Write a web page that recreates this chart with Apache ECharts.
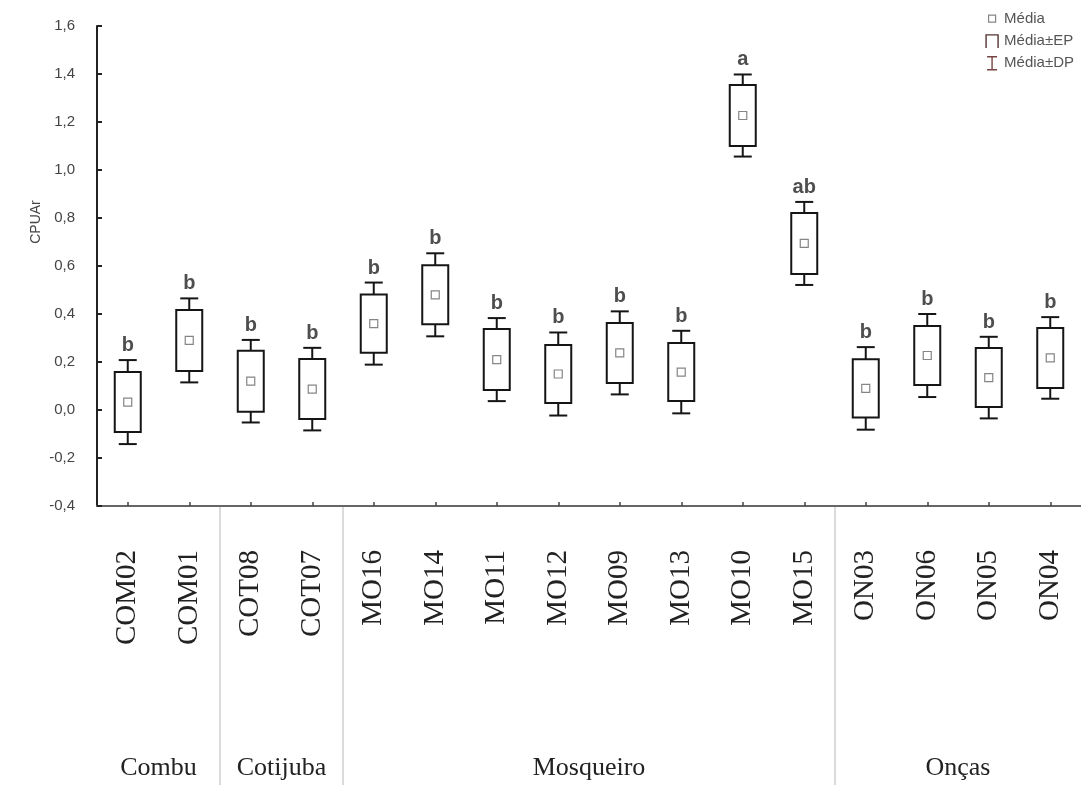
<!DOCTYPE html>
<html>
<head>
<meta charset="utf-8">
<title>CPUAr por ponto</title>
<script src="https://cdn.jsdelivr.net/npm/echarts@6/dist/echarts.min.js"></script>
<style>
  html, body { margin: 0; padding: 0; background: #fff; }
  #chart { width: 1081px; height: 785px; }
</style>
</head>
<body>
<div id="chart"></div>
<script>
// Sampling points, grouped by island
const categories = ['COM02', 'COM01', 'COT08', 'COT07', 'MO16', 'MO14', 'MO11', 'MO12',
                    'MO09', 'MO13', 'MO10', 'MO15', 'ON03', 'ON06', 'ON05', 'ON04'];
const groupNames = ['Combu', 'Cotijuba', 'Mosqueiro', 'Onças'];
const groupSizes = [2, 2, 8, 4];

// Mean CPUAr, standard error (EP) and standard deviation (DP) per point
const means = [0.033, 0.290, 0.120, 0.087, 0.360, 0.480, 0.210, 0.150,
               0.238, 0.158, 1.227, 0.694, 0.090, 0.227, 0.135, 0.217];
const ep    = [0.125, 0.127, 0.127, 0.125, 0.121, 0.123, 0.127, 0.121,
               0.125, 0.121, 0.127, 0.127, 0.121, 0.123, 0.123, 0.125];
const dp    = [0.175, 0.175, 0.172, 0.172, 0.171, 0.173, 0.173, 0.173,
               0.173, 0.172, 0.171, 0.173, 0.172, 0.173, 0.170, 0.170];
// Significance letters
const letters = ['b', 'b', 'b', 'b', 'b', 'b', 'b', 'b', 'b', 'b', 'a', 'ab', 'b', 'b', 'b', 'b'];

// Value axis ticks
const yMin = -0.4, yMax = 1.6, yStep = 0.2;
const yTickLabels = ['-0,4', '-0,2', '0,0', '0,2', '0,4', '0,6', '0,8', '1,0', '1,2', '1,4', '1,6'];

const rows = categories.map((c, i) => [i, means[i], ep[i], dp[i]]);

const chart = echarts.init(document.getElementById('chart'));

const LINE = '#151515';
const BOX_W = 26, CAP_W = 18;

function renderWhisker(params, api) {
  const i = api.value(0), m = api.value(1), e = api.value(2), d = api.value(3);
  const x = api.coord([i, m])[0];
  const yDt = api.coord([i, m + d])[1];
  const yEt = api.coord([i, m + e])[1];
  const yEb = api.coord([i, m - e])[1];
  const yDb = api.coord([i, m - d])[1];
  const st = { stroke: LINE, lineWidth: 2 };
  return {
    type: 'group',
    children: [
      { type: 'line', shape: { x1: x, y1: yDt, x2: x, y2: yEt }, style: st },
      { type: 'line', shape: { x1: x - CAP_W / 2, y1: yDt, x2: x + CAP_W / 2, y2: yDt }, style: st },
      { type: 'line', shape: { x1: x, y1: yEb, x2: x, y2: yDb }, style: st },
      { type: 'line', shape: { x1: x - CAP_W / 2, y1: yDb, x2: x + CAP_W / 2, y2: yDb }, style: st }
    ]
  };
}

function renderBox(params, api) {
  const i = api.value(0), m = api.value(1), e = api.value(2);
  const x = api.coord([i, m])[0];
  const yT = api.coord([i, m + e])[1];
  const yB = api.coord([i, m - e])[1];
  return {
    type: 'rect',
    shape: { x: x - BOX_W / 2, y: yT, width: BOX_W, height: yB - yT },
    style: { fill: '#fff', stroke: LINE, lineWidth: 2 }
  };
}

const meanIcon = 'path://M0,0M14,14M3.5,3.5H10.5V10.5H3.5Z';
const epIcon = 'path://M0,0M14,14M1,14V1H13V14';
const dpIcon = 'path://M0,0M14,14M2,0.5H12M7,0.5V13.5M2,13.5H12';

chart.setOption({
  animation: false,
  backgroundColor: '#fff',
  grid: { left: 97, top: 26, width: 997, height: 480, containLabel: false },
  legend: {
    orient: 'vertical',
    right: 2,
    top: 6,
    itemWidth: 14,
    itemHeight: 14,
    itemGap: 7,
    textStyle: { fontFamily: 'Liberation Sans, Arial, sans-serif', fontSize: 15, color: '#555' },
    data: [
      { name: 'Média', icon: meanIcon, itemStyle: { color: 'rgba(0,0,0,0)', borderColor: '#666', borderWidth: 1.2 } },
      { name: 'Média±EP', icon: epIcon, itemStyle: { color: 'rgba(0,0,0,0)', borderColor: '#533', borderWidth: 1.4 } },
      { name: 'Média±DP', icon: dpIcon, itemStyle: { color: 'rgba(0,0,0,0)', borderColor: '#744', borderWidth: 1.4 } }
    ]
  },
  xAxis: {
    type: 'category',
    data: categories,
    axisLine: { show: true, onZero: false, lineStyle: { color: '#666', width: 2 } },
    axisTick: { show: true, inside: true, alignWithLabel: true, length: 4, lineStyle: { color: '#444', width: 1.5 } },
    axisLabel: {
      rotate: 90,
      margin: 44,
      fontFamily: 'Liberation Serif, Times New Roman, serif',
      fontSize: 29,
      color: '#222'
    },
    splitLine: { show: false }
  },
  yAxis: {
    type: 'value',
    min: yMin,
    max: yMax,
    interval: yStep,
    axisLine: { show: true, lineStyle: { color: '#222', width: 2 } },
    axisTick: { show: true, inside: true, length: 5, lineStyle: { color: '#222', width: 2 } },
    axisLabel: {
      margin: 22,
      fontFamily: 'Liberation Sans, Arial, sans-serif',
      fontSize: 15,
      color: '#444',
      formatter: v => yTickLabels[Math.round((v - yMin) / yStep)]
    },
    splitLine: { show: false }
  },
  series: [
    {
      name: 'Média±DP',
      type: 'custom',
      renderItem: renderWhisker,
      encode: { x: 0, y: [1] },
      data: rows,
      z: 2
    },
    {
      name: 'Média±EP',
      type: 'custom',
      renderItem: renderBox,
      encode: { x: 0, y: [1] },
      data: rows,
      z: 3
    },
    {
      name: 'Média',
      type: 'scatter',
      symbol: 'rect',
      symbolSize: 8,
      itemStyle: { color: '#fff', borderColor: '#666', borderWidth: 1.2 },
      data: categories.map((c, i) => [i, means[i]]),
      z: 4
    },
    {
      name: 'letras',
      type: 'scatter',
      symbolSize: 1,
      itemStyle: { color: 'rgba(0,0,0,0)' },
      label: {
        show: true,
        position: 'top',
        distance: 4,
        fontFamily: 'Liberation Sans, Arial, sans-serif',
        fontWeight: 'bold',
        fontSize: 20,
        color: '#222',
        formatter: p => letters[p.dataIndex]
      },
      data: categories.map((c, i) => [i, means[i] + dp[i]]),
      z: 5
    }
  ]
});

// Group separators and island names below the category labels
function drawGroups() {
  const px = i => chart.convertToPixel({ xAxisIndex: 0 }, i);
  const yAxisPix = chart.convertToPixel({ yAxisIndex: 0 }, yMin);
  const elements = [];
  let start = 0;
  groupSizes.forEach((n, g) => {
    const end = start + n - 1;
    const cx = (px(start) + px(end)) / 2;
    elements.push({
      type: 'text',
      x: cx,
      y: 768,
      style: {
        text: groupNames[g],
        font: '26px "Liberation Serif", "Times New Roman", serif',
        fill: '#222',
        align: 'center',
        verticalAlign: 'middle'
      }
    });
    if (g < groupSizes.length - 1) {
      const bx = (px(end) + px(end + 1)) / 2;
      elements.push({
        type: 'line',
        shape: { x1: bx, y1: yAxisPix, x2: bx, y2: 785 },
        style: { stroke: '#cfcfcf', lineWidth: 1.5 }
      });
    }
    start += n;
  });
  elements.push({
    type: 'text',
    x: 36,
    y: 222,
    rotation: Math.PI / 2,
    style: {
      text: 'CPUAr',
      font: '14px "Liberation Sans", Arial, sans-serif',
      fill: '#444',
      align: 'center',
      verticalAlign: 'middle'
    }
  });
  chart.setOption({ graphic: elements });
}
drawGroups();
</script>
</body>
</html>
